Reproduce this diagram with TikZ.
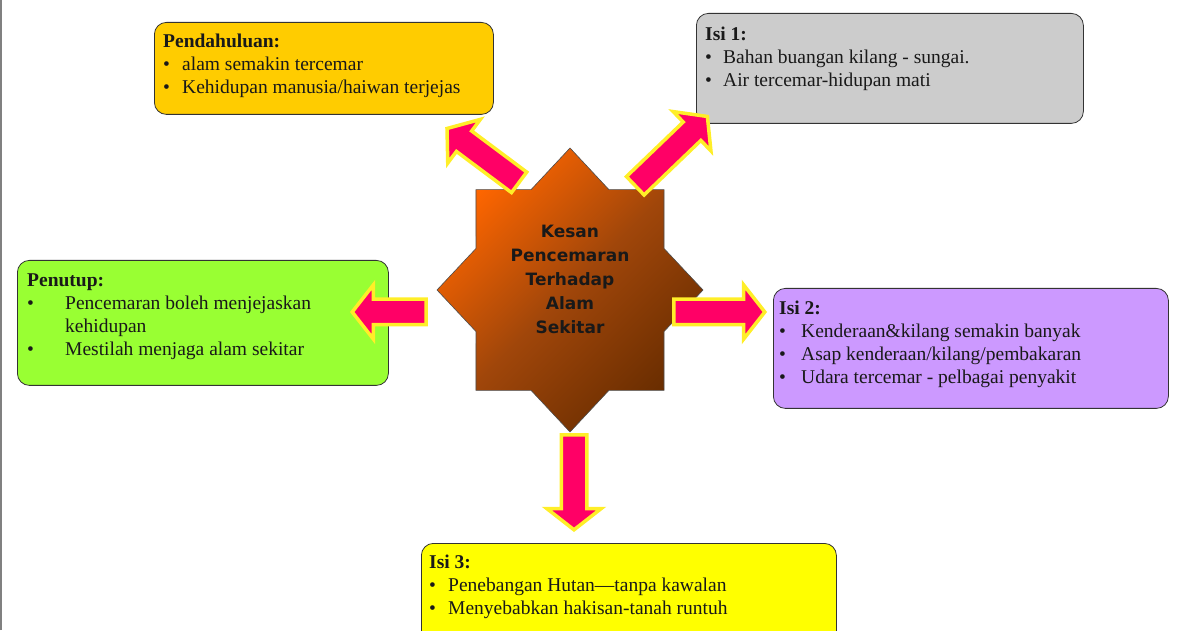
\documentclass[tikz,border=0pt]{standalone}
\usepackage{fontspec}
\setmainfont{Liberation Serif}
\newfontfamily\starfont{DejaVu Sans}
\usetikzlibrary{shapes.arrows, positioning}

\definecolor{arrowpink}{RGB}{255,0,102}
\definecolor{glow}{RGB}{255,238,40}
\definecolor{starlight}{RGB}{255,102,0}
\definecolor{starmid}{RGB}{160,70,10}
\definecolor{stardark}{RGB}{105,45,0}
\definecolor{pendcol}{RGB}{255,204,0}
\definecolor{isiAcol}{RGB}{204,204,204}
\definecolor{isiBcol}{RGB}{204,153,255}
\definecolor{isiCcol}{RGB}{255,255,0}
\definecolor{tutupcol}{RGB}{153,255,51}

\tikzset{
  box/.style={draw=black!80, line width=0.8pt, rounded corners=12pt, anchor=north west, inner sep=0pt},
  boxtext/.style={align=left, inner sep=0pt, font=\fontsize{19.5}{23}\selectfont, text=black!90},
  startext/.style={align=center, inner sep=0pt, font=\starfont\bfseries\fontsize{17}{24}\selectfont, text=black!90},
  blockarrow/.style={single arrow, fill=arrowpink, draw=glow, line width=3.5pt, inner xsep=0pt, inner ysep=11pt, outer sep=0pt,
    single arrow head extend=14.5pt, single arrow tip angle=104, sloped, allow upside down, pos=1, anchor=tip},
}
\newcommand{\itm}[2][19pt]{\makebox[#1][l]{\textbullet}#2}

\begin{document}
\begin{tikzpicture}[x=1pt, y=1pt]
        \useasboundingbox (0,0) rectangle (1200,630);
        \clip (0,0) rectangle (1200,630);
        \draw[gray, line width=1.5pt] (0.75,0) -- (0.75,630);

        % centre star
        \begin{scope}[shift={(570,340)}, xscale=133, yscale=142]
            \shade[draw=black!70, line width=0.6pt, top color=starlight, bottom color=stardark, middle color=starmid, shading angle=45]
                (0:1) \foreach \a in {0,45,...,315}{ -- (\a+22.5:0.765) -- (\a+45:1) } -- cycle;
        \end{scope}
        \node[startext] (pusat) at (570,351) {Kesan\\Pencemaran\\Terhadap\\Alam\\Sekitar};

        % boxes
        \node[box, fill=pendcol, minimum width=339pt, minimum height=92pt] (pend) at (154,608) {};
        \node[boxtext, below right=11.8pt and 9pt of pend.north west] (pendtext)
            {\textbf{Pendahuluan:}\\\itm{alam semakin tercemar}\\\itm{Kehidupan manusia/haiwan terjejas}};

        \node[box, fill=isiAcol, minimum width=387pt, minimum height=110pt] (isiA) at (696,617) {};
        \node[boxtext, below right=13.7pt and 9pt of isiA.north west] (isiAtext)
            {\textbf{Isi 1:}\\\itm[18pt]{Bahan buangan kilang - sungai.}\\\itm[18pt]{Air tercemar-hidupan mati}};

        \node[box, fill=isiBcol, minimum width=395pt, minimum height=120pt] (isiB) at (773,342) {};
        \node[boxtext, below right=12.7pt and 6pt of isiB.north west] (isiBtext)
            {\textbf{Isi 2:}\\\itm[22pt]{Kenderaan\&kilang semakin banyak}\\\itm[22pt]{Asap kenderaan/kilang/pembakaran}\\\itm[22pt]{Udara tercemar - pelbagai penyakit}};

        \node[box, fill=tutupcol, minimum width=371pt, minimum height=125pt] (tutup) at (17,370) {};
        \node[boxtext, below right=13.7pt and 10pt of tutup.north west] (tutuptext)
            {\textbf{Penutup:}\\\itm[38pt]{Pencemaran boleh menjejaskan}\\\hspace*{38pt}kehidupan\\\itm[38pt]{Mestilah menjaga alam sekitar}};

        \node[box, fill=isiCcol, minimum width=415pt, minimum height=120pt] (isiC) at (421,87) {};
        \node[boxtext, below right=11.7pt and 8pt of isiC.north west] (isiCtext)
            {\textbf{Isi 3:}\\\itm{Penebangan Hutan---tanpa kawalan}\\\itm{Menyebabkan hakisan-tanah runtuh}};

        % arrows
        \coordinate (pendTail) at (520,447);
        \coordinate (pendTip) at (447,501.5);
        \coordinate (isiATail) at (634,443);
        \coordinate (isiATip) at (707.4,513.5);
        \coordinate (isiBTail) at (672,318);
        \coordinate (isiBTip) at (764.8,318);
        \coordinate (tutupTail) at (428,318);
        \coordinate (tutupTip) at (352.2,318);
        \coordinate (isiCTail) at (574,197);
        \coordinate (isiCTip) at (574,100.2);
        \path (pendTail) -- node[blockarrow, minimum height=90pt] (arrPend) {} (pendTip);
        \path (isiATail) -- node[blockarrow, minimum height=100pt] (arrIsiA) {} (isiATip);
        \path (isiBTail) -- node[blockarrow, minimum height=91pt] (arrIsiB) {} (isiBTip);
        \path (tutupTail) -- node[blockarrow, minimum height=74pt] (arrTutup) {} (tutupTip);
        \path (isiCTail) -- node[blockarrow, minimum height=95pt] (arrIsiC) {} (isiCTip);
\end{tikzpicture}
\end{document}
